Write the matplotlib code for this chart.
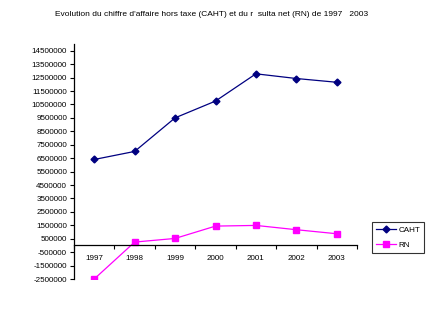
import matplotlib
matplotlib.use('Agg')
import matplotlib.pyplot as plt
import numpy as np

years = ['1997', '1998', '1999', '2000', '2001', '2002', '2003']
caht = [6400000, 7000000, 9500000, 10750000, 12780000, 12430000, 12150000]
rn = [-2500000, 250000, 520000, 1440000, 1490000, 1170000, 870000]
yticks = np.arange(-2500000, 15000000, 1000000)

plt.rcParams['font.family'] = ['Liberation Sans', 'DejaVu Sans']

fig = plt.figure(figsize=(4.26, 3.21), dpi=100)
ax = fig.add_axes([74/426, 1-279/321, (357-74)/426, (279-44)/321])

x = np.arange(len(years))
ax.plot(x, caht, color='#000080', marker='D', markersize=3.5, linewidth=0.9, label='CAHT')
ax.plot(x, rn, color='#FF00FF', marker='s', markersize=4, linewidth=0.9, label='RN')

ax.set_xlim(-0.5, len(years) - 0.5)
ax.set_ylim(-2500000, 15000000)
ax.set_yticks(yticks)
ax.set_yticklabels([str(v) for v in yticks], fontsize=5.8)
ax.tick_params(axis='y', length=3, width=0.8, pad=2)

ax.spines['top'].set_visible(False)
ax.spines['right'].set_visible(False)
ax.spines['bottom'].set_position(('data', 0))
ax.spines['left'].set_linewidth(0.9)
ax.spines['bottom'].set_linewidth(0.9)

ax.set_xticks(np.arange(-0.5, len(years), 1))
ax.set_xticklabels([])
ax.tick_params(axis='x', length=3, width=0.8)
for i, yr in enumerate(years):
    ax.text(i, -680000, yr, ha='center', va='top', fontsize=5.8)

fig.text(212/426, 1-14/321, "Evolution du chiffre d'affaire hors taxe (CAHT) et du r  sulta net (RN) de 1997   2003",
         ha='center', va='center', fontsize=6.0)

leg = fig.legend(loc='upper left', bbox_to_anchor=(372/426, 1-222/321), fontsize=5.8,
                 frameon=True, fancybox=False, edgecolor='black', handlelength=2.5,
                 borderpad=0.5, labelspacing=0.9, handletextpad=0.3, borderaxespad=0)
leg.get_frame().set_linewidth(0.8)

fig.savefig('out.png', dpi=100)
